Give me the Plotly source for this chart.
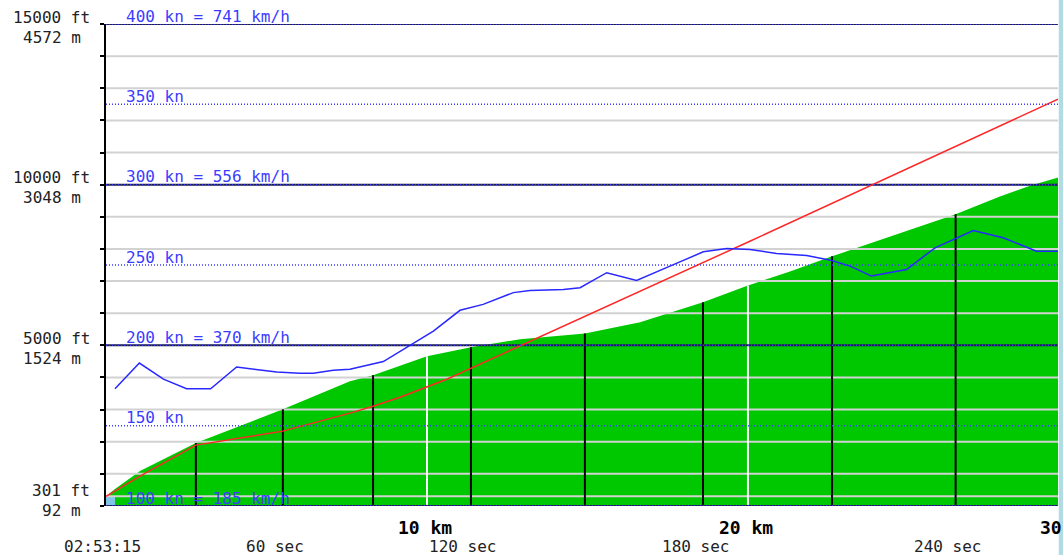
import numpy as np
import plotly.graph_objects as go

# ground / terrain-like green profile along the track (km, ft)
green_km = [0.00, 0.28, 1.06, 2.80, 4.17, 5.51, 7.60, 8.32, 10.00, 11.37, 12.90,
            14.92, 16.64, 18.60, 20.00, 21.31, 22.62, 24.74, 26.45, 27.85, 28.79, 29.66]
green_ft = [300, 530, 1090, 1960, 2490, 3010, 3880, 4070, 4660, 4940, 5190,
            5370, 5720, 6340, 6860, 7300, 7770, 8480, 9070, 9630, 9970, 10220]

# altitude (red)
alt_km = [0.00, 1.06, 2.80, 5.51, 7.60, 8.32, 9.16, 10.00, 10.62, 20.06, 29.66]
alt_ft = [301, 930, 1895, 2330, 2890, 3106, 3386, 3696, 3945, 8240, 12663]

# ground speed (blue)
speed_km = [0.28, 1.04, 1.79, 2.51, 3.26, 4.07, 4.80, 5.32, 6.04, 6.46, 7.08, 7.60,
            8.64, 9.47, 10.20, 11.03, 11.75, 12.69, 13.21, 14.25, 14.77, 15.60, 16.53,
            17.57, 18.61, 19.34, 20.06, 20.89, 21.83, 22.61, 23.18, 23.85, 24.42, 24.94,
            25.83, 26.47, 27.02, 27.95, 28.99, 29.67]
speed_kn = [173, 189, 179, 173, 173, 186.5, 184.7, 183.4, 182.6, 182.6, 184.5, 185.1,
            189.9, 200.2, 208.9, 221.8, 225.5, 232.8, 234.2, 234.8, 235.9, 245.2, 240.4,
            249.3, 258.2, 260.3, 259.7, 257.2, 255.9, 252.8, 249.3, 243.1, 245.2, 247.2,
            260.7, 266.3, 271.5, 267.0, 258.6, 258.6]

# 30 second marks (km)
mark_km = [2.80, 5.51, 8.32, 11.37, 14.92, 18.60, 22.62, 26.47]
mark_sec = [30, 60, 90, 120, 150, 180, 210, 240]

km_ticks = [10, 20, 30]
ft_labels = [15000, 10000, 5000]
m_labels = [4572, 3048, 1524]
kn_levels = [100, 150, 200, 250, 300, 350, 400]
kmh_levels = [185, None, 370, None, 556, None, 741]
start_time = "02:53:15"
start_ft, start_m = 301, 92
start_pad_km = 0.28
km_max = 29.66
ft_max = 15000

MONO = "DejaVu Sans Mono"
BLUE = "#3c3cff"

fig = go.Figure()

# green profile
fig.add_trace(go.Scatter(x=green_km, y=green_ft, mode="lines", fill="tozeroy",
                         fillcolor="#00c800", line=dict(width=0, color="#00c800")))
# small light blue block at the start
fig.add_trace(go.Scatter(x=[0, start_pad_km], y=[start_ft, start_ft], mode="lines",
                         fill="tozeroy", fillcolor="#80c4e8", line=dict(width=0)))

# grey horizontal grid every 1000 ft (majors drawn separately)
grid_levels = [v for v in range(1000, ft_max, 1000) if v % 5000] + [start_ft]
gx, gy = [], []
for v in grid_levels:
    gx += [0, km_max, None]
    gy += [v, v, None]
fig.add_trace(go.Scatter(x=gx, y=gy, mode="lines", line=dict(color="#d2d2d2", width=2)))

# white lines at 10 / 20 km and black lines at 30 s marks, up to the green top
wx, wy = [], []
for k in km_ticks:
    if k < km_max:
        wx += [k, k, None]
        wy += [0, float(np.interp(k, green_km, green_ft)), None]
fig.add_trace(go.Scatter(x=wx, y=wy, mode="lines", line=dict(color="white", width=2)))
bx, by = [], []
for k in mark_km:
    bx += [k, k, None]
    by += [0, float(np.interp(k, green_km, green_ft)), None]
fig.add_trace(go.Scatter(x=bx, y=by, mode="lines", line=dict(color="black", width=2)))

# major dark lines at 5000 ft multiples
mx, my = [], []
for v in range(0, ft_max + 1, 5000):
    mx += [0, km_max, None]
    my += [v, v, None]
fig.add_trace(go.Scatter(x=mx, y=my, mode="lines", line=dict(color="#1c1c50", width=2)))

# dotted speed reference lines (speed axis)
sx, sy = [], []
for kn in kn_levels:
    sx += [0, km_max, None]
    sy += [kn, kn, None]
fig.add_trace(go.Scatter(x=sx, y=sy, yaxis="y2", mode="lines",
                         line=dict(color=BLUE, width=1.5, dash="1px,2px")))

# altitude and speed
fig.add_trace(go.Scatter(x=alt_km, y=alt_ft, mode="lines", line=dict(color="#ff2828", width=1.5)))
fig.add_trace(go.Scatter(x=speed_km, y=speed_kn, yaxis="y2", mode="lines",
                         line=dict(color="#2828ff", width=1.5)))

ann = []
txt = dict(family=MONO, size=16, color="#222222")
for ft, m in zip(ft_labels, m_labels):
    ann.append(dict(x=0, xref="paper", y=ft, yref="y", text=f"{ft} ft", showarrow=False,
                    xanchor="right", yanchor="middle", xshift=-14, yshift=7, font=txt))
    ann.append(dict(x=0, xref="paper", y=ft, yref="y", text=f"{m} m", showarrow=False,
                    xanchor="right", yanchor="middle", xshift=-23, yshift=-13, font=txt))
ann.append(dict(x=0, xref="paper", y=start_ft, yref="y", text=f"{start_ft} ft", showarrow=False,
                xanchor="right", yanchor="middle", xshift=-14, yshift=6, font=txt))
ann.append(dict(x=0, xref="paper", y=start_ft, yref="y", text=f"{start_m} m", showarrow=False,
                xanchor="right", yanchor="middle", xshift=-23, yshift=-14, font=txt))

for kn, kmh in zip(kn_levels, kmh_levels):
    label = f"{kn} kn" if kmh is None else f"{kn} kn = {kmh} km/h"
    ann.append(dict(x=0, xref="paper", y=kn, yref="y2", text=label, showarrow=False,
                    xanchor="left", yanchor="middle", xshift=18, yshift=8,
                    font=dict(family=MONO, size=16, color=BLUE)))

for k in km_ticks:
    ann.append(dict(x=k / km_max, xref="paper", y=0, yref="paper", text=f"<b>{k} km</b>",
                    showarrow=False, xanchor="center", yanchor="middle", xshift=-2, yshift=-21,
                    font=dict(family=MONO, size=18, color="black")))

ann.append(dict(x=0, xref="paper", y=0, yref="paper", text=start_time, showarrow=False,
                xanchor="center", yanchor="middle", xshift=-4, yshift=-40, font=txt))
for k, s in zip(mark_km, mark_sec):
    if s % 60 == 0:
        ann.append(dict(x=k / km_max, xref="paper", y=0, yref="paper", text=f"{s} sec",
                        showarrow=False, xanchor="center", yanchor="middle", xshift=-8,
                        yshift=-40, font=txt))

fig.update_layout(
    width=1063, height=555,
    margin=dict(l=106, r=5, t=24, b=49),
    paper_bgcolor="white", plot_bgcolor="white",
    showlegend=False,
    annotations=ann,
    xaxis=dict(range=[0, km_max], showgrid=False, zeroline=False, showticklabels=False,
               ticks="", showline=False),
    yaxis=dict(range=[0, ft_max], showgrid=False, zeroline=False, showticklabels=False,
               ticks="outside", dtick=1000, tick0=0, ticklen=4, tickwidth=2, tickcolor="black",
               showline=True, linecolor="black", linewidth=2, layer="above traces"),
    yaxis2=dict(range=[100, 400], overlaying="y", side="right", showgrid=False,
                zeroline=False, showticklabels=False, ticks="", showline=False),
    shapes=[dict(type="rect", xref="paper", yref="paper", x0=1.0008, x1=1.01, y0=-0.2, y1=1.1,
                 fillcolor="#b0dce4", line=dict(width=0), layer="above")],
)

# remove the default page margin so the figure fills the window
fig.write_html("out.html", config={"displayModeBar": False},
               post_script="document.body.style.margin='0';document.body.style.overflow='hidden';")
